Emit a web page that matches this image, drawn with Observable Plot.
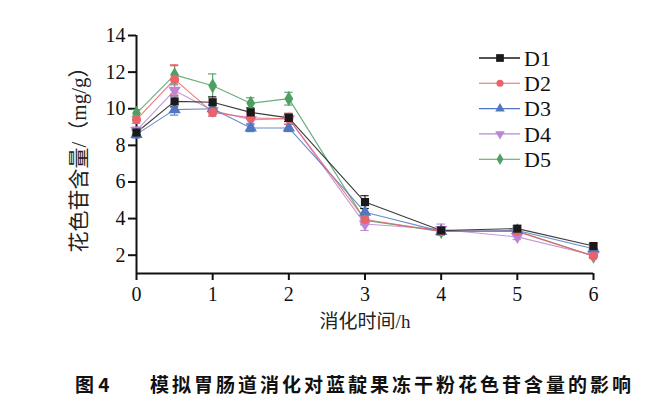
<!DOCTYPE html>
<html><head><meta charset="utf-8">
<script src="https://cdn.jsdelivr.net/npm/d3@7"></script>
<script src="https://cdn.jsdelivr.net/npm/@observablehq/plot@0.6"></script>
<style>
body{margin:0;background:#fff;}
#wrap{position:relative;width:650px;height:411px;}
#cap{position:absolute;top:370px;left:0;width:650px;height:28px;font-family:'Noto Sans CJK SC',sans-serif;font-weight:bold;font-size:19px;color:#111;}
#cap span{position:absolute;top:0;line-height:28px;}
</style></head>
<body>
<div id="wrap"><div id="chart"></div><div id="cap"><span id="c1" style="left:75px">图 4</span><span id="c2" style="left:150px;letter-spacing:3px">模拟胃肠道消化对蓝靛果冻干粉花色苷含量的影响</span></div></div>
<script>
const times = [0, 0.5, 1, 1.5, 2, 3, 4, 5, 6];
const names = ["D1", "D2", "D3", "D4", "D5"];
const D1 = [8.7, 10.4, 10.35, 9.8, 9.5, 4.9, 3.35, 3.45, 2.5];
const D2 = [9.4, 11.6, 9.8, 9.5, 9.45, 3.95, 3.3, 3.3, 1.95];
const D3 = [8.6, 9.95, 10.0, 8.95, 8.95, 4.35, 3.3, 3.35, 2.35];
const D4 = [8.8, 11.0, 9.9, 9.4, 9.45, 3.7, 3.4, 3.0, 2.0];
const D5 = [9.75, 11.85, 11.25, 10.3, 10.55, 3.9, 3.3, 3.3, 1.95];
const E1 = [0.15, 0.3, 0.3, 0.25, 0.2, 0.35, 0.15, 0.15, 0.15];
const E2 = [0.2, 0.8, 0.2, 0.3, 0.3, 0.3, 0.2, 0.2, 0.1];
const E3 = [0.2, 0.3, 0.2, 0.2, 0.2, 0.2, 0.15, 0.15, 0.1];
const E4 = [0.2, 0.3, 0.3, 0.3, 0.3, 0.35, 0.3, 0.15, 0.1];
const E5 = [0.2, 0.5, 0.65, 0.3, 0.35, 0.2, 0.2, 0.15, 0.1];
const xTicks = [0, 1, 2, 3, 4, 5, 6];
const yTicks = [2, 4, 6, 8, 10, 12, 14];
const yLabel = "花色苷含量/（mg/g）";
const xLabel = "消化时间/h";
const colors = ["#1a1a1a", "#e8646a", "#4f78c0", "#bb86d6", "#4f9e62"];
const symbols = ["square", "circle", "triangle", "triangle", "diamond"];
const rotations = [0, 0, 0, 180, 0];

const vals = [D1, D2, D3, D4, D5];
const errs = [E1, E2, E3, E4, E5];
const rows = [];
[4,3,2,1,0].forEach(i => times.forEach((t, j) => rows.push({s: names[i], t, v: vals[i][j], e: errs[i][j], rot: rotations[i]})));

const font = "'Liberation Serif','Noto Sans CJK SC',serif";
const cap = 0.055;
const plot = Plot.plot({
  width: 650, height: 360,
  marginLeft: 136, marginRight: 57, marginTop: 35, marginBottom: 87,
  style: {fontFamily: font, fontSize: "20px", color: "#111", background: "#fff"},
  x: {domain: [0, 6]},
  y: {domain: [1, 14]},
  color: {domain: names, range: colors},
  symbol: {domain: names, range: symbols},
  marks: [
    Plot.axisX({ticks: xTicks, tickFormat: d => String(d), tickSize: 7, tickPadding: 6, strokeWidth: 2, label: null, fontSize: 20}),
    Plot.axisY({ticks: yTicks, tickFormat: d => String(d), tickSize: 8, tickPadding: 3, strokeWidth: 2, label: null, fontSize: 20}),
    Plot.text([xLabel], {frameAnchor: "bottom", textAnchor: "middle", dy: 54, fontSize: 19, fill: "#222"}),
    Plot.text([yLabel], {frameAnchor: "left", textAnchor: "middle", rotate: -90, dx: -57, fontSize: 21, fill: "#222"}),
    Plot.ruleX([0], {stroke: "#111", strokeWidth: 2}),
    Plot.ruleY([1], {stroke: "#111", strokeWidth: 2}),
    Plot.line(rows, {x: "t", y: "v", z: "s", stroke: "s", strokeWidth: 1.1, strokeOpacity: 0.85}),
    Plot.ruleX(rows, {x: "t", y1: d => d.v - d.e, y2: d => d.v + d.e, stroke: "s", strokeWidth: 1.1}),
    Plot.ruleY(rows, {y: d => d.v + d.e, x1: d => d.t - cap, x2: d => d.t + cap, stroke: "s", strokeWidth: 1.1}),
    Plot.ruleY(rows, {y: d => d.v - d.e, x1: d => d.t - cap, x2: d => d.t + cap, stroke: "s", strokeWidth: 1.1}),
    Plot.dot(rows, {x: "t", y: "v", symbol: "s", fill: "s", r: 4.6, rotate: "rot"})
  ]
});
document.getElementById("chart").appendChild(plot);

// legend
const svg = d3.select(plot);
const lg = svg.append("g").attr("text-anchor", "start");
names.forEach((n, i) => {
  const y = 58 + i * 25.3;
  const g = lg.append("g");
  g.append("line").attr("x1", 479).attr("x2", 520).attr("y1", y).attr("y2", y).attr("stroke", colors[i]).attr("stroke-width", i === 0 ? 1.6 : 1.1);
  const typ = {square: d3.symbolSquare, circle: d3.symbolCircle, triangle: d3.symbolTriangle, diamond: d3.symbolDiamond}[symbols[i]];
  g.append("path").attr("d", d3.symbol(typ, i === 0 ? 60 : 40)()).attr("fill", colors[i])
    .attr("transform", `translate(500,${y}) rotate(${rotations[i]})`);
  g.append("text").attr("x", 524).attr("y", y).attr("dy", "0.35em").attr("text-anchor", "start").attr("font-family", font).attr("font-size", 22).attr("fill", "#111").text(n);
});
</script>
</body></html>
